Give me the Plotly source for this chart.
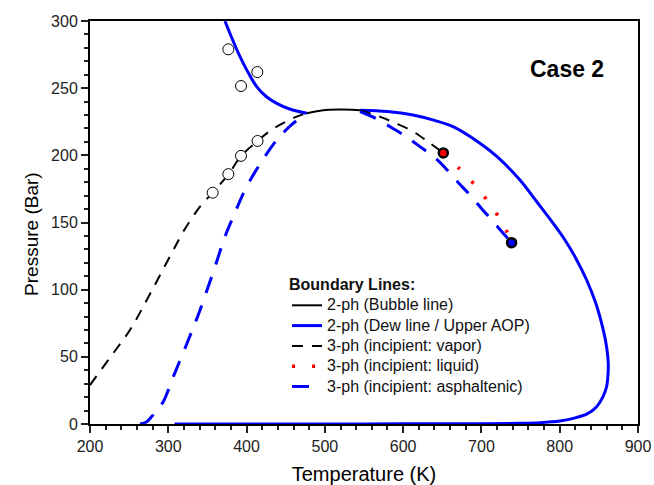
import plotly.graph_objects as go

# --- Phase envelope data (Temperature in K, Pressure in bar) ---

# 2-ph dew line / upper AOP, upper-left branch
dew_left_T = [372.4, 380.0, 391.6, 400.0, 412.9, 425.0, 438.5, 455.0, 477.0]
dew_left_P = [300.0, 289.0, 273.4, 263.8, 251.1, 243.8, 238.7, 234.5, 231.3]

# 2-ph dew line, right branch looping down to the lower AOP
dew_right_T = [545.0, 580.0, 612.6, 640.0, 663.7, 698.1, 720.0, 749.2, 770.0,
               791.4, 806.7, 820.0, 834.4, 846.0, 855.6, 860.0, 862.0, 861.5,
               859.9, 855.0, 847.2, 835.0, 817.4, 800.0, 774.8, 749.0, 700.0,
               600.0, 500.0, 400.0, 308.0]
dew_right_P = [233.6, 232.6, 230.0, 226.0, 221.3, 209.0, 199.0, 181.6, 166.0,
               149.6, 137.0, 124.0, 107.2, 90.0, 70.0, 57.0, 45.2, 35.0,
               27.8, 20.0, 12.9, 7.5, 4.2, 2.2, 1.0, 0.5, 0.2,
               0.1, 0.05, 0.0, 0.0]

# 2-ph bubble line
bubble_T = [477.0, 490.0, 505.0, 520.0, 535.0, 545.0]
bubble_P = [231.3, 232.8, 233.9, 234.2, 234.0, 233.6]

# 3-ph boundary, incipient vapor (left branch, gap across the bubble line, right branch)
vapor_T = [200.0, 225.0, 251.0, 275.0, 302.0, 320.0, 340.5, 357.0, 377.0, 393.0,
           414.0, 432.0, 450.0, 465.0, 477.0, None,
           545.0, 570.0, 590.0, 613.0, 632.0, 651.3]
vapor_P = [29.0, 49.0, 70.0, 95.0, 124.6, 144.0, 161.8, 172.5, 186.0, 199.5,
           210.7, 219.0, 225.0, 229.0, 231.3, None,
           233.6, 228.8, 224.0, 217.6, 210.0, 201.8]

# 3-ph boundary, incipient liquid
liquid_T = [651.3, 672.0, 690.0, 706.0, 720.0, 731.0, 738.5]
liquid_P = [201.8, 190.0, 179.0, 167.5, 156.0, 145.0, 135.0]

# 3-ph boundary, incipient asphaltenic phase
asph_T = [263.9, 272.0, 278.8, 285.0, 293.6, 306.4, 325.6, 340.0, 359.7, 372.4,
          383.0, 398.0, 415.0, 438.5, 458.0, 477.0, None,
          545.0, 565.0, 587.0, 605.0, 621.5, 640.0, 655.6, 670.0, 685.4, 700.0,
          715.1, 727.0, 738.5]
asph_P = [0.0, 1.5, 5.5, 10.0, 16.6, 35.2, 62.5, 84.0, 117.1, 139.4,
          154.3, 174.2, 191.5, 211.4, 223.0, 231.3, None,
          232.5, 227.5, 220.0, 213.5, 206.5, 198.5, 189.5, 180.0, 170.5, 160.5,
          150.6, 142.5, 135.0]

# Experimental onset points
exp_T = [376.7, 413.7, 392.9, 414.0, 392.9, 376.7, 356.7]
exp_P = [278.9, 262.0, 251.6, 210.7, 199.6, 186.0, 172.2]

# Three-phase end points
end_vl_T, end_vl_P = [651.3], [201.8]
end_la_T, end_la_P = [738.5], [135.0]

FONT = "Arial, Liberation Sans, sans-serif"


def legend_label(text, bold=False):
    """Legend text drawn at 16px while the row pitch follows the smaller legend font."""
    inner = f"<b>{text}</b>" if bold else text
    return f"<span style='font-size:16px'>{inner}</span>"


fig = go.Figure()

fig.add_trace(go.Scatter(x=bubble_T, y=bubble_P, mode="lines",
                         name=legend_label("2-ph (Bubble line)"),
                         line=dict(color="black", width=2, shape="spline")))
fig.add_trace(go.Scatter(x=dew_left_T, y=dew_left_P, mode="lines",
                         name=legend_label("2-ph (Dew line / Upper AOP)"), legendgroup="dew",
                         line=dict(color="#0000ff", width=3, shape="spline")))
fig.add_trace(go.Scatter(x=dew_right_T, y=dew_right_P, mode="lines",
                         name="2-ph (Dew line / Upper AOP)", legendgroup="dew",
                         showlegend=False,
                         line=dict(color="#0000ff", width=3, shape="spline")))
fig.add_trace(go.Scatter(x=vapor_T, y=vapor_P, mode="lines",
                         name=legend_label("3-ph (incipient: vapor)"),
                         line=dict(color="black", width=2, dash="11px,9px",
                                   shape="spline")))
fig.add_trace(go.Scatter(x=liquid_T, y=liquid_P, mode="lines",
                         name=legend_label("3-ph (incipient: liquid)"),
                         line=dict(color="red", width=3.5, dash="3px,17px",
                                   shape="spline")))
fig.add_trace(go.Scatter(x=asph_T, y=asph_P, mode="lines",
                         name=legend_label("3-ph (incipient: asphaltenic)"),
                         line=dict(color="#0000ff", width=3, dash="17px,13px",
                                   shape="spline")))

fig.add_trace(go.Scatter(x=exp_T, y=exp_P, mode="markers", showlegend=False,
                         marker=dict(symbol="circle", size=11, color="white",
                                     line=dict(color="black", width=1))))
fig.add_trace(go.Scatter(x=end_vl_T, y=end_vl_P, mode="markers", showlegend=False,
                         marker=dict(symbol="circle", size=9, color="red",
                                     line=dict(color="black", width=2.5))))
fig.add_trace(go.Scatter(x=end_la_T, y=end_la_P, mode="markers", showlegend=False,
                         marker=dict(symbol="circle", size=9, color="#0000ff",
                                     line=dict(color="black", width=2.5))))

fig.add_annotation(text="<b>Case 2</b>", x=0.870, y=0.881, xref="paper", yref="paper",
                   xanchor="center", yanchor="middle", showarrow=False,
                   font=dict(family=FONT, size=23, color="black"))

# Y-axis title, set slightly below the axis midpoint
fig.add_annotation(text="Pressure (Bar)", x=-0.106, y=0.4715, xref="paper", yref="paper",
                   xanchor="center", yanchor="middle", textangle=-90, showarrow=False,
                   font=dict(family=FONT, size=19, color="black"))

axis_common = dict(
    showline=True, linecolor="black", linewidth=2, mirror=True,
    ticks="outside", ticklen=7, tickwidth=2, tickcolor="#222",
    showgrid=False, zeroline=False, automargin=False,
    tickfont=dict(family=FONT, size=16, color="#222"),
)

fig.update_xaxes(range=[200, 900], dtick=100, tick0=200,
                 title=dict(text="Temperature (K)", font=dict(family=FONT, size=20, color="black"),
                            standoff=13),
                 minor=dict(ticks="outside", ticklen=4, tickwidth=1.5, dtick=20,
                            tickcolor="#222"),
                 **axis_common)
fig.update_yaxes(range=[0, 300], dtick=50, tick0=0,
                 minor=dict(ticks="outside", ticklen=4, tickwidth=1.5, dtick=10,
                            tickcolor="#222"),
                 **axis_common)

fig.update_layout(
    width=654, height=485,
    margin=dict(l=90, r=16, t=21, b=61),
    paper_bgcolor="white", plot_bgcolor="white",
    font=dict(family=FONT, color="black"),
    legend=dict(
        x=0.3595, y=0.375, xanchor="left", yanchor="top",
        bgcolor="rgba(0,0,0,0)", borderwidth=0,
        font=dict(family=FONT, size=13.3, color="#111"),
        title=dict(text=legend_label("Boundary Lines:", bold=True),
                   font=dict(family=FONT, size=13.3)),
        tracegroupgap=0, itemwidth=30,
    ),
)

fig.write_html("out.html")
